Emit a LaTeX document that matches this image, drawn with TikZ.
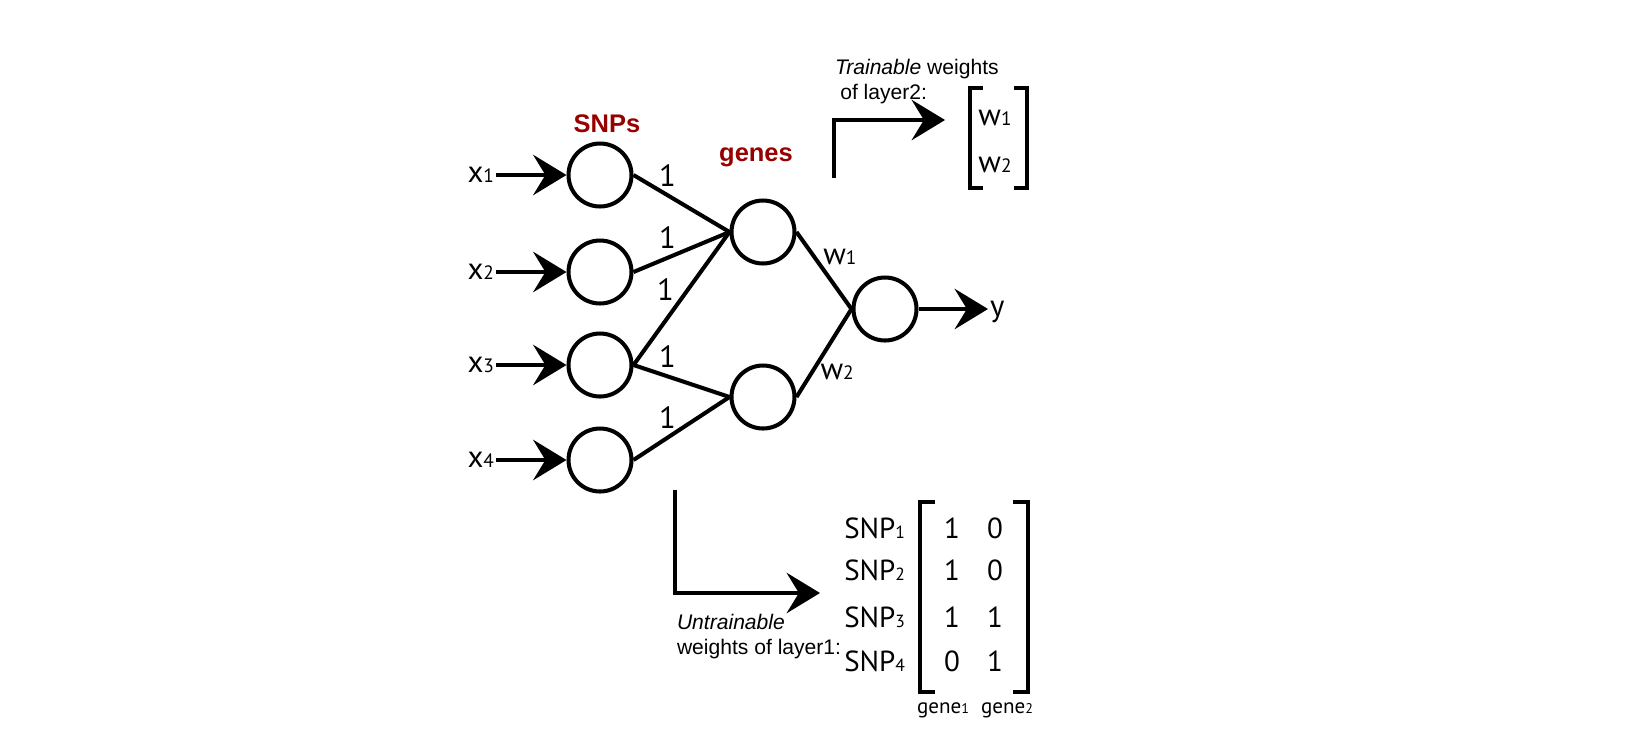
\documentclass[tikz,border=0pt]{standalone}
\usepackage{fontspec}
\setmainfont{Liberation Sans}
\newfontfamily\myr{PT Sans}
\usetikzlibrary{arrows.meta}
\definecolor{darkred}{RGB}{150,0,0}
\newcommand{\idx}[2][11]{{\fontsize{#1}{#1}\selectfont #2}}

\begin{document}
\begin{tikzpicture}[x=0.02cm,y=-0.02cm,line width=2.3pt,
  neuron/.style={circle,draw,minimum size=1.26cm,inner sep=0},
  lbl/.style={inner sep=0,font=\myr\fontsize{17.5}{17.5}\selectfont},
  head/.style={inner sep=0,text=darkred,font=\bfseries\fontsize{14.5}{14.5}\selectfont},
  note/.style={inner sep=0,align=left,font=\fontsize{12}{14.5}\selectfont},
  ent/.style={inner sep=0,font=\myr\fontsize{16.5}{16.5}\selectfont},
  arr/.style={-{Stealth[length=19pt,width=23pt,inset=7pt]}}]
\useasboundingbox (0,0) rectangle (1644,748);
\node[neuron] (s1) at (600,175) {};
\node[neuron] (s2) at (600,272) {};
\node[neuron] (s3) at (600,365) {};
\node[neuron] (s4) at (600,460) {};
\node[neuron] (g1) at (763,232) {};
\node[neuron] (g2) at (763,397) {};
\node[neuron] (out) at (885,309) {};
\node[lbl,anchor=east] (x1) at (496,175) {x\idx{1}};
\node[lbl,anchor=east] (x2) at (496,272) {x\idx{2}};
\node[lbl,anchor=east] (x3) at (496,365) {x\idx{3}};
\node[lbl,anchor=east] (x4) at (496,460) {x\idx{4}};
\node[lbl,anchor=west,text depth=0pt] (y) at (988,309) {y};
\node[head,anchor=base] (snps) at (607,132) {SNPs};
\node[head,anchor=base] (genes) at (756,161) {genes};
\draw[arr] (x1) -- (s1);
\draw[arr] (x2) -- (s2);
\draw[arr] (x3) -- (s3);
\draw[arr] (x4) -- (s4);
\draw (s1.east) -- node[lbl,pos=0.355,above=4pt]{1} (g1.west);
\draw (s2.east) -- node[lbl,pos=0.355,above=4pt]{1} (g1.west);
\draw (s3.east) -- node[lbl,pos=0.46,above left=1pt]{1} (g1.west);
\draw (s3.east) -- node[lbl,pos=0.355,above=4pt]{1} (g2.west);
\draw (s4.east) -- node[lbl,pos=0.355,above=4pt]{1} (g2.west);
\draw (g1.east) -- node[lbl,pos=0.45,above right]{w\idx{1}} (out.west);
\draw (g2.east) -- node[lbl,pos=0.4,below right]{w\idx{2}} (out.west);
\draw[arr] (out) -- (y);
\node[note,anchor=north west] (tw) at (833,57) {\textit{Trainable} weights\\\hspace*{3pt}of layer2:};
\coordinate (tw0) at (834,178);
\coordinate (tw1) at (945,120);
\draw[arr] (tw0) |- (tw1);
\draw (983,88) -- (970,88) -- (970,188) -- (983,188);
\draw (1014,88) -- (1027,88) -- (1027,188) -- (1014,188);
\node[lbl,anchor=base] (w1) at (995,125) {w\idx{1}};
\node[lbl,anchor=base] (w2) at (995,172) {w\idx{2}};
\node[note,anchor=north west] (uw) at (675,612) {\textit{Untrainable}\\weights of layer1:};
\coordinate (uw0) at (675,490);
\coordinate (uw1) at (820,593);
\draw[arr] (uw0) |- (uw1);
\draw (935,502) -- (920,502) -- (920,692) -- (935,692);
\draw (1013,502) -- (1028,502) -- (1028,692) -- (1013,692);
\node[ent,anchor=base east] (snp1) at (907,538) {SNP\idx[10]{1}};
\node[ent,anchor=base east] (snp2) at (907,580) {SNP\idx[10]{2}};
\node[ent,anchor=base east] (snp3) at (907,627) {SNP\idx[10]{3}};
\node[ent,anchor=base east] (snp4) at (907,671) {SNP\idx[10]{4}};
\node[ent,anchor=base] (m11) at (952,538) {1};
\node[ent,anchor=base] (m12) at (995,538) {0};
\node[ent,anchor=base] (m21) at (952,580) {1};
\node[ent,anchor=base] (m22) at (995,580) {0};
\node[ent,anchor=base] (m31) at (952,627) {1};
\node[ent,anchor=base] (m32) at (995,627) {1};
\node[ent,anchor=base] (m41) at (952,671) {0};
\node[ent,anchor=base] (m42) at (995,671) {1};
\node[inner sep=0,anchor=base,font=\myr\fontsize{12}{12}\selectfont] (c1) at (943,713) {gene\idx[8]{1}};
\node[inner sep=0,anchor=base,font=\myr\fontsize{12}{12}\selectfont] (c2) at (1007,713) {gene\idx[8]{2}};
\end{tikzpicture}
\end{document}
